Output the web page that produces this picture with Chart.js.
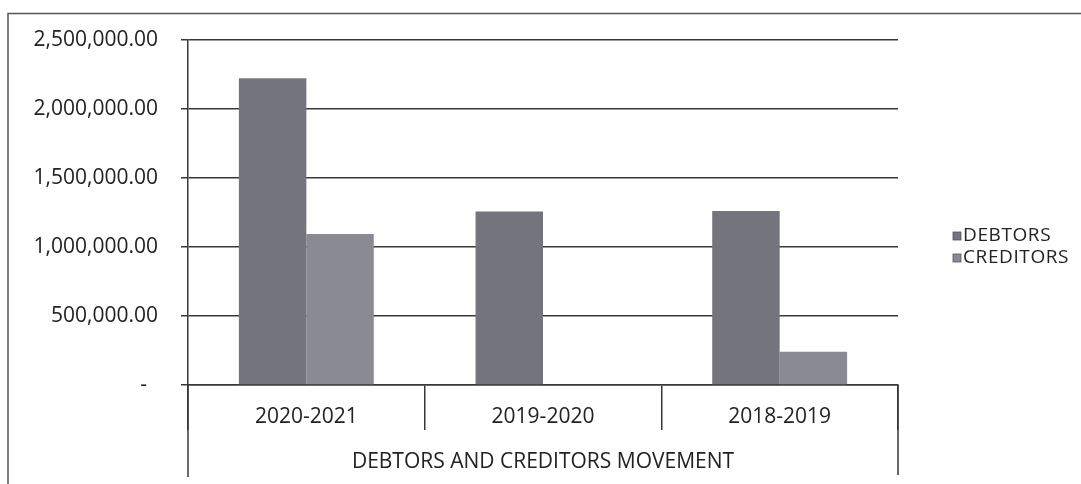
<!DOCTYPE html>
<html>
<head>
<meta charset="utf-8">
<title>Debtors and Creditors Movement</title>
<script src="https://cdn.jsdelivr.net/npm/chart.js@4.4.1/dist/chart.umd.min.js"></script>
<style>
    html, body { margin: 0; padding: 0; background: #ffffff; }
    #movimientoChart { display: block; }
</style>
</head>
<body>
<canvas id="movimientoChart" width="1081" height="484"></canvas>
<script>
// Datos del grafico
const periodos = ['2020-2021', '2019-2020', '2018-2019'];
const deudores = [2222000, 1258000, 1260000];
const acreedores = [1094000, 0, 241000];
const nombresSeries = ['DEBTORS', 'CREDITORS'];
const tituloEje = 'DEBTORS AND CREDITORS MOVEMENT';
const escalaMax = 2500000;
const escalaPaso = 500000;

const colorTexto = '#222222';
const colorLinea = '#383838';
const fuente = { family: "'Open Sans', 'Noto Sans', sans-serif", size: 21 };

// Marco exterior, espaciado de letras y lineas largas de los extremos del eje X
const marcoPlugin = {
    id: 'marco',
    beforeInit(chart) {
        chart.ctx.letterSpacing = '0.9px';
    },
    beforeDraw(chart) {
        const ctx = chart.ctx;
        ctx.save();
        ctx.fillStyle = '#ffffff';
        ctx.fillRect(0, 0, chart.width, chart.height);
        ctx.strokeStyle = '#555555';
        ctx.lineWidth = 1.5;
        ctx.beginPath();
        ctx.moveTo(8, chart.height);
        ctx.lineTo(8, 13.5);
        ctx.lineTo(chart.width, 13.5);
        ctx.stroke();
        ctx.restore();
    },
    afterDraw(chart) {
        const ctx = chart.ctx;
        const area = chart.chartArea;
        const x = chart.scales.x;
        ctx.save();
        ctx.strokeStyle = colorLinea;
        ctx.lineWidth = 1.5;
        ctx.beginPath();
        ctx.moveTo(area.left, area.bottom);
        ctx.lineTo(area.left, x.bottom - 7);
        ctx.moveTo(area.right, area.bottom);
        ctx.lineTo(area.right, x.bottom - 9);
        ctx.stroke();
        ctx.restore();
    }
};

// Leyenda a la derecha
const leyendaPlugin = {
    id: 'leyendaDerecha',
    afterDraw(chart) {
        const ctx = chart.ctx;
        const x0 = chart.chartArea.right + 55;
        const yCentro = chart.height / 2 + 5;
        const paso = 22;
        ctx.save();
        ctx.font = `19px ${fuente.family}`;
        ctx.letterSpacing = '0.6px';
        ctx.textBaseline = 'middle';
        chart.data.datasets.forEach((ds, i) => {
            const y = yCentro + (i - (chart.data.datasets.length - 1) / 2) * paso;
            ctx.fillStyle = ds.backgroundColor;
            ctx.fillRect(x0, y - 4, 8, 8);
            ctx.strokeStyle = '#555555';
            ctx.lineWidth = 0.8;
            ctx.strokeRect(x0, y - 4, 8, 8);
            ctx.fillStyle = colorTexto;
            ctx.fillText(ds.label, x0 + 10, y);
        });
        ctx.restore();
    }
};

function formatoValor(value) {
    if (value === 0) return '-  ';
    return value.toLocaleString('en-US', { minimumFractionDigits: 2, maximumFractionDigits: 2 });
}

const ctx = document.getElementById('movimientoChart').getContext('2d');

const movimientoChart = new Chart(ctx, {
    type: 'bar',
    data: {
        labels: periodos,
        datasets: [
            {
                label: nombresSeries[0],
                data: deudores,
                backgroundColor: '#74747c',
                borderWidth: 0
            },
            {
                label: nombresSeries[1],
                data: acreedores,
                backgroundColor: '#8a8a92',
                borderWidth: 0
            }
        ]
    },
    options: {
        responsive: false,
        animation: false,
        devicePixelRatio: 1,
        layout: {
            padding: { top: 40, right: 183, bottom: 0, left: 0 }
        },
        datasets: {
            bar: {
                categoryPercentage: 0.57,
                barPercentage: 1.0
            }
        },
        plugins: {
            legend: { display: false },
            tooltip: { enabled: false }
        },
        scales: {
            x: {
                afterFit(scale) { scale.height = 99; },
                grid: {
                    offset: true,
                    drawOnChartArea: false,
                    drawTicks: true,
                    tickLength: 45,
                    color: colorLinea,
                    lineWidth: 1.5
                },
                border: { display: true, color: colorLinea, width: 1.5 },
                ticks: {
                    color: colorTexto,
                    font: fuente,
                    padding: -26,
                    maxRotation: 0
                },
                title: {
                    display: true,
                    text: tituloEje,
                    color: colorTexto,
                    font: fuente,
                    padding: { top: 0, bottom: 9 }
                }
            },
            y: {
                min: 0,
                max: escalaMax,
                afterFit(scale) { scale.width = 188; },
                grid: {
                    color: colorLinea,
                    lineWidth: 1.5,
                    tickLength: 7
                },
                border: { display: true, color: colorLinea, width: 1.5 },
                ticks: {
                    stepSize: escalaPaso,
                    color: colorTexto,
                    font: fuente,
                    padding: 23,
                    callback: formatoValor
                }
            }
        }
    },
    plugins: [marcoPlugin, leyendaPlugin]
});
</script>
</body>
</html>
